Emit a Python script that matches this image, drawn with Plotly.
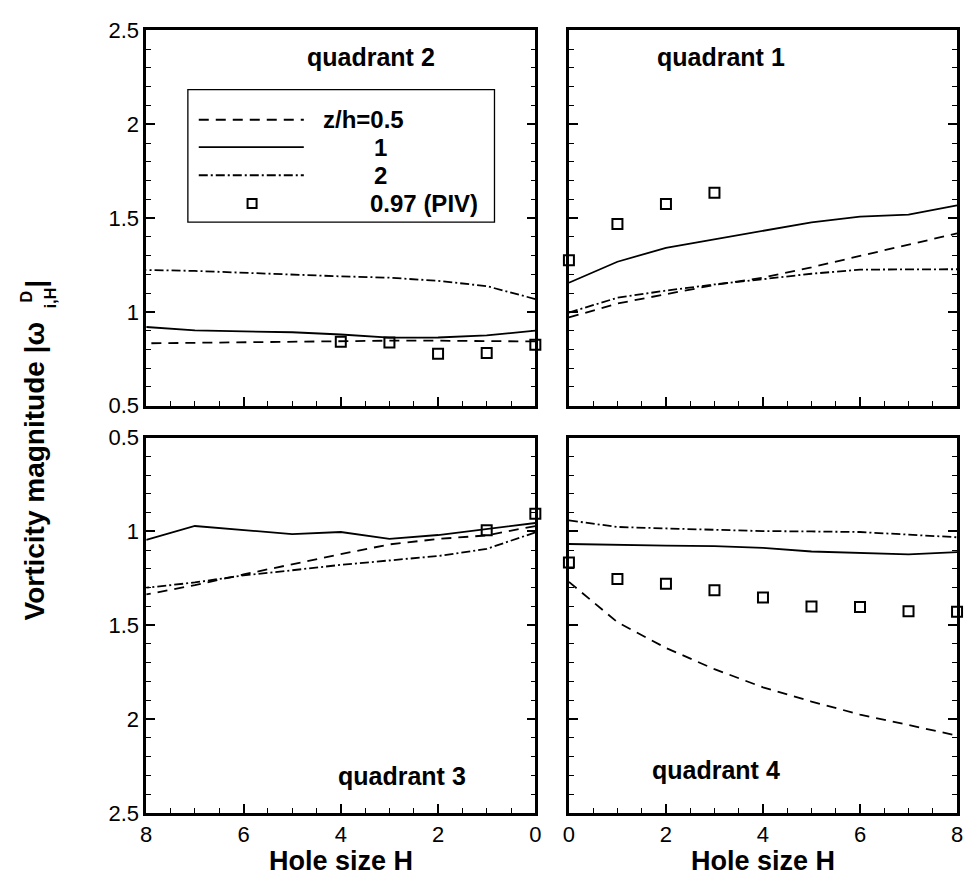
import plotly.graph_objects as go

# ---------------- data ----------------
H = [0, 1, 2, 3, 4, 5, 6, 7, 8]

# quadrant 2 (top-left)
q2_z05 = [0.842, 0.845, 0.846, 0.846, 0.844, 0.841, 0.838, 0.835, 0.832]
q2_z1 = [0.900, 0.874, 0.863, 0.862, 0.879, 0.891, 0.896, 0.901, 0.919]
q2_z2 = [1.068, 1.137, 1.165, 1.182, 1.189, 1.199, 1.211, 1.218, 1.223]
q2_piv_H = [0, 1, 2, 3, 4]
q2_piv = [0.824, 0.781, 0.776, 0.836, 0.841]

# quadrant 1 (top-right)
q1_z05 = [0.970, 1.044, 1.094, 1.143, 1.182, 1.237, 1.298, 1.358, 1.418]
q1_z1 = [1.155, 1.267, 1.341, 1.387, 1.434, 1.477, 1.508, 1.518, 1.568]
q1_z2 = [0.996, 1.075, 1.113, 1.146, 1.174, 1.203, 1.225, 1.227, 1.227]
q1_piv_H = [0, 1, 2, 3]
q1_piv = [1.275, 1.468, 1.575, 1.635]

# quadrant 3 (bottom-left)
q3_z05 = [0.971, 1.021, 1.040, 1.069, 1.121, 1.174, 1.229, 1.286, 1.336]
q3_z1 = [0.955, 0.988, 1.019, 1.040, 1.003, 1.014, 0.993, 0.971, 1.045]
q3_z2 = [1.005, 1.093, 1.131, 1.155, 1.178, 1.207, 1.234, 1.272, 1.300]
q3_piv_H = [0, 1]
q3_piv = [0.905, 0.993]

# quadrant 4 (bottom-right)
q4_z05 = [1.269, 1.484, 1.621, 1.734, 1.831, 1.907, 1.976, 2.031, 2.088]
q4_z1 = [1.067, 1.072, 1.076, 1.078, 1.088, 1.107, 1.116, 1.122, 1.110]
q4_z2 = [0.941, 0.976, 0.984, 0.991, 0.998, 1.000, 1.003, 1.017, 1.031]
q4_piv_H = [0, 1, 2, 3, 4, 5, 6, 7, 8]
q4_piv = [1.166, 1.253, 1.279, 1.314, 1.352, 1.400, 1.403, 1.426, 1.428]

x_ticks = [0, 2, 4, 6, 8]
y_ticks = [0.5, 1, 1.5, 2, 2.5]
legend_labels = ["z/h=0.5", "1", "2", "0.97 (PIV)"]
panel_titles = ["quadrant 2", "quadrant 1", "quadrant 3", "quadrant 4"]
x_title = "Hole size H"

# ---------------- figure ----------------
W, Hpx = 966, 888
FONT = "Liberation Sans, Arial, Helvetica, sans-serif"
DASH = "10px,7px"
DASHDOT = "9px,3px,2px,3px"
LW = 1.8

fig = go.Figure()

panels = [
    ("x", "y", q2_z05, q2_z1, q2_z2, q2_piv_H, q2_piv),
    ("x2", "y2", q1_z05, q1_z1, q1_z2, q1_piv_H, q1_piv),
    ("x3", "y3", q3_z05, q3_z1, q3_z2, q3_piv_H, q3_piv),
    ("x4", "y4", q4_z05, q4_z1, q4_z2, q4_piv_H, q4_piv),
]

for xa, ya, z05, z1, z2, ph, pv in panels:
    fig.add_trace(go.Scatter(x=H, y=z05, mode="lines", xaxis=xa, yaxis=ya,
                             line=dict(color="black", width=LW, dash=DASH), showlegend=False))
    fig.add_trace(go.Scatter(x=H, y=z1, mode="lines", xaxis=xa, yaxis=ya,
                             line=dict(color="black", width=LW), showlegend=False))
    fig.add_trace(go.Scatter(x=H, y=z2, mode="lines", xaxis=xa, yaxis=ya,
                             line=dict(color="black", width=LW, dash=DASHDOT), showlegend=False))
    fig.add_trace(go.Scatter(x=ph, y=pv, mode="markers", xaxis=xa, yaxis=ya, cliponaxis=False,
                             marker=dict(symbol="square-open", size=10, color="black",
                                         line=dict(width=2, color="black")),
                             showlegend=False))

xl = [142 / W, 536 / W]
xr = [570 / W, 963 / W]
yt = [1 - 405 / Hpx, 1 - 19 / Hpx]
yb = [1 - 824 / Hpx, 1 - 438 / Hpx]

tickfont = dict(family=FONT, size=22, color="black")


def xaxis(domain, rng, anchor, labels):
    return dict(domain=domain, range=rng, anchor=anchor, showline=True, linewidth=2.5,
                linecolor="black", mirror=True, ticks="inside", ticklen=9, tickwidth=1.5,
                tickcolor="black", tickvals=x_ticks, showticklabels=labels, tickfont=tickfont,
                showgrid=False, zeroline=False,
                minor=dict(dtick=0.5, ticks="inside", ticklen=5, tickwidth=1.3,
                           tickcolor="black", showgrid=False))


def yaxis(domain, rng, anchor, labels):
    return dict(domain=domain, range=rng, anchor=anchor, showline=True, linewidth=2.5,
                linecolor="black", mirror="ticks", ticks="inside", ticklen=9, tickwidth=1.5,
                tickcolor="black", tickvals=y_ticks, showticklabels=labels, tickfont=tickfont,
                showgrid=False, zeroline=False,
                minor=dict(dtick=0.1, ticks="inside", ticklen=5, tickwidth=1.3,
                           tickcolor="black", showgrid=False))


fig.update_layout(
    width=W, height=Hpx, margin=dict(l=0, r=0, t=0, b=0),
    paper_bgcolor="white", plot_bgcolor="white", showlegend=False,
    xaxis=xaxis(xl, [8, 0], "y", False),
    yaxis=yaxis(yt, [0.5, 2.5], "x", True),
    xaxis2=xaxis(xr, [0, 8], "y2", False),
    yaxis2=yaxis(yt, [0.5, 2.5], "x2", False),
    xaxis3=xaxis(xl, [8, 0], "y3", True),
    yaxis3=yaxis(yb, [2.5, 0.5], "x3", True),
    xaxis4=xaxis(xr, [0, 8], "y4", True),
    yaxis4=yaxis(yb, [2.5, 0.5], "x4", False),
)

# ---------------- legend (inside quadrant 2) ----------------
shapes = []
shapes.append(dict(type="rect", xref="x domain", yref="y domain", x0=0.107, x1=0.895,
                   y0=0.489, y1=0.8425, line=dict(color="black", width=1.3)))
leg_y = [0.762, 0.689, 0.614, 0.539]
for yy, dash in zip(leg_y[:3], [DASH, "solid", DASHDOT]):
    shapes.append(dict(type="line", xref="x domain", yref="y domain", x0=0.135, x1=0.405,
                       y0=yy, y1=yy, line=dict(color="black", width=LW, dash=dash)))
shapes.append(dict(type="rect", xref="x domain", yref="y domain", xsizemode="pixel",
                   ysizemode="pixel", xanchor=0.272, yanchor=leg_y[3], x0=-4.5, x1=4.5,
                   y0=-4.5, y1=4.5, line=dict(color="black", width=2)))
fig.update_layout(shapes=shapes)

bold = lambda s: "<b>" + s + "</b>"
ann = []
leg_x = [0.45, 0.58, 0.58, 0.57]
for lbl, xx, yy in zip(legend_labels, leg_x, leg_y):
    ann.append(dict(text=bold(lbl), xref="x domain", yref="y domain", x=xx, y=yy,
                    xanchor="left", yanchor="middle", showarrow=False,
                    font=dict(family=FONT, size=24, color="black")))

# panel titles
title_pos = [("x", "y", 0.577, 0.928), ("x2", "y2", 0.392, 0.928),
             ("x3", "y3", 0.657, 0.097), ("x4", "y4", 0.379, 0.114)]
for t, (xa, ya, xx, yy) in zip(panel_titles, title_pos):
    ann.append(dict(text=bold(t), xref=xa + " domain", yref=ya + " domain", x=xx, y=yy,
                    xanchor="center", yanchor="middle", showarrow=False,
                    font=dict(family=FONT, size=25, color="black")))

# x titles
for dom in (xl, xr):
    ann.append(dict(text=bold(x_title), xref="paper", yref="paper", x=(dom[0] + dom[1]) / 2,
                    y=1 - 874 / Hpx, xanchor="center", yanchor="middle", showarrow=False,
                    font=dict(family=FONT, size=27, color="black")))

# y title (rotated, with stacked super/subscript)
ann.append(dict(text=bold("Vorticity magnitude |ω"), xref="paper", yref="paper",
                x=29 / W, y=1 - 628 / Hpx, xanchor="center", yanchor="bottom",
                textangle=-90, showarrow=False, font=dict(family=FONT, size=28, color="black")))
ann.append(dict(text=bold("D"), xref="paper", yref="paper", x=21 / W, y=1 - 293 / Hpx,
                xanchor="center", yanchor="middle", textangle=-90, showarrow=False,
                font=dict(family=FONT, size=16, color="black")))
ann.append(dict(text=bold("i,H"), xref="paper", yref="paper", x=45 / W, y=1 - 294 / Hpx,
                xanchor="center", yanchor="middle", textangle=-90, showarrow=False,
                font=dict(family=FONT, size=16, color="black")))
ann.append(dict(text=bold("|"), xref="paper", yref="paper", x=29 / W, y=1 - 280 / Hpx,
                xanchor="center", yanchor="middle", textangle=-90, showarrow=False,
                font=dict(family=FONT, size=28, color="black")))

fig.update_layout(annotations=ann)

fig.write_html(
    "out.html",
    config={"displayModeBar": False},
    post_script=("document.body.style.margin='0px';"
                 "document.body.style.overflow='hidden';"
                 "document.documentElement.style.overflow='hidden';"),
)
